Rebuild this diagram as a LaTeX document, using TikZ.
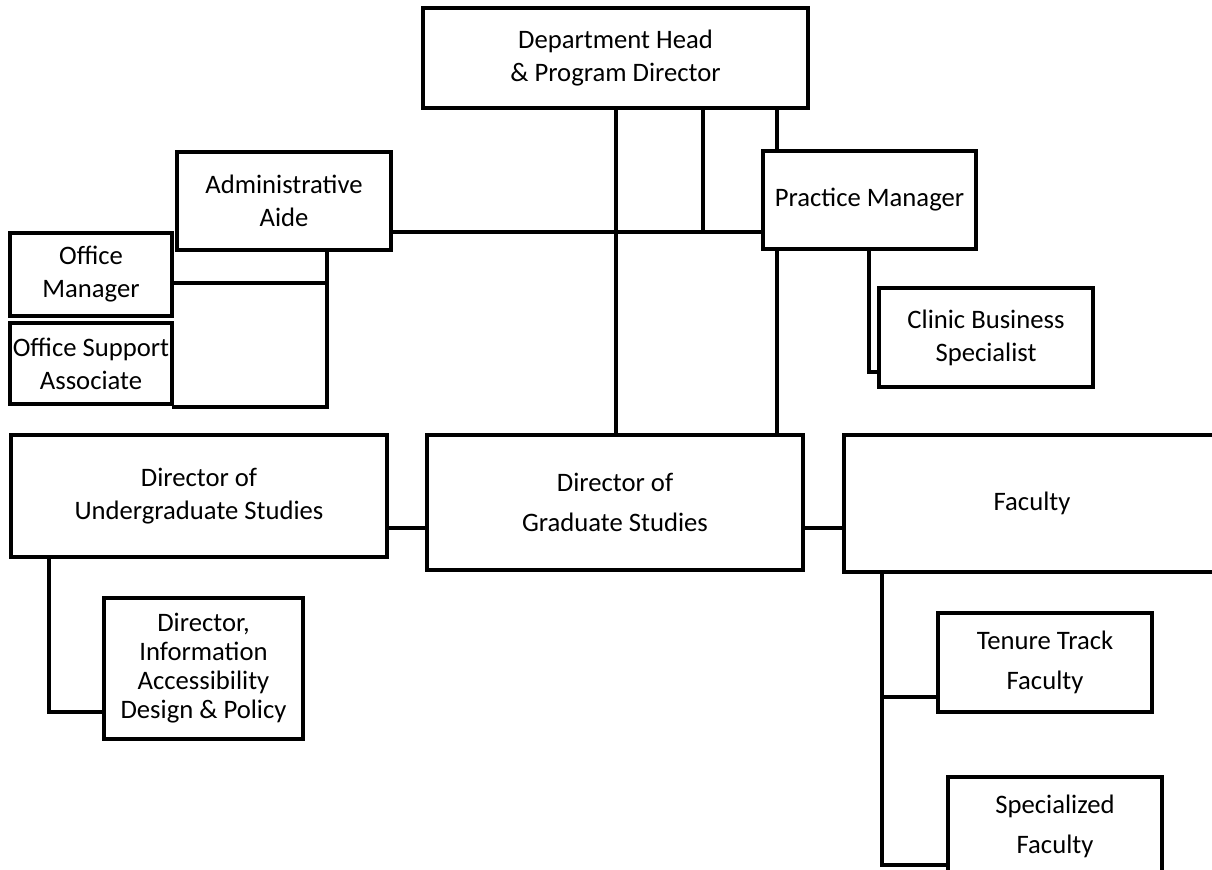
\documentclass[tikz,border=0pt]{standalone}
\usepackage{fontspec}
\setmainfont{Carlito}
\newcommand\fsa{\fontsize{16}{19.8}\selectfont}
\newcommand\fsb{\fontsize{16}{24}\selectfont}
\newcommand\fsc{\fontsize{16}{17.4}\selectfont}
\tikzset{
  bx/.style={draw, line width=1.9pt, inner sep=0pt, outer sep=0pt, align=center, font=\fsa},
  conn/.style={line width=1.9pt},
}
\begin{document}
\begin{tikzpicture}[x=0.6pt, y=-0.6pt]
\useasboundingbox (0,0) rectangle (1212,869);
\clip (0,0) rectangle (1212,869);
\fill[white] (0,0) rectangle (1212,869);
% boxes
\node[bx, minimum width=385*0.6pt, minimum height=100*0.6pt] (head) at (615.5,58) {Department Head\\\& Program Director};
\node[bx, minimum width=214*0.6pt, minimum height=98*0.6pt] (aide) at (284,201) {Administrative\\Aide};
\node[bx, minimum width=213*0.6pt, minimum height=98*0.6pt] (pm) at (869.5,200) {Practice Manager};
\node[bx, minimum width=162*0.6pt, minimum height=83*0.6pt] (om) at (91,274.5) {Office\\Manager};
\node[bx, minimum width=162*0.6pt, minimum height=81*0.6pt] (osa) at (91,363.5) {Office Support\\Associate};
\node[bx, minimum width=214*0.6pt, minimum height=99*0.6pt] (cbs) at (986,337.5) {Clinic Business\\Specialist};
\node[bx, minimum width=376*0.6pt, minimum height=122*0.6pt] (ug) at (199,496) {Director of\\Undergraduate Studies};
\node[bx, font=\fsb, minimum width=376*0.6pt, minimum height=135*0.6pt] (grad) at (615,502.5) {Director of\\Graduate Studies};
\node[bx, minimum width=376*0.6pt, minimum height=137*0.6pt] (fac) at (1032,503.5) {Faculty};
\node[bx, font=\fsc, minimum width=199*0.6pt, minimum height=141*0.6pt] (diadp) at (203.5,668.5) {Director,\\Information\\Accessibility\\Design \& Policy};
\node[bx, font=\fsb, minimum width=214*0.6pt, minimum height=99*0.6pt] (ttf) at (1045,662.5) {Tenure Track\\Faculty};
\node[bx, font=\fsb, minimum width=214*0.6pt, minimum height=99*0.6pt] (sf) at (1055,826.5) {Specialized\\Faculty};
% junction coordinates
\coordinate (xA) at (616,0);
\coordinate (jB) at (703,232);
\coordinate (xC) at (777,0);
\coordinate (jD) at (869,372);
\coordinate (jE) at (327,407);
\coordinate (jF) at (327,283);
\coordinate (jG) at (0,528);
\coordinate (jH) at (49,712);
\coordinate (jI) at (882,697);
\coordinate (jJ) at (882,865);
% connectors
\draw[conn] (head.south -| xA) -- (grad.north -| xA);
\draw[conn] (head.south -| jB) -- (jB);
\draw[conn] (aide.east |- jB) -- (pm.west |- jB);
\draw[conn] (head.south -| xC) -- (pm.north -| xC);
\draw[conn] (pm.south -| xC) -- (grad.north -| xC);
\draw[conn] (pm.south -| jD) |- (cbs.west |- jD);
\draw[conn] (aide.south -| jE) -- (jE) -- (osa.east |- jE);
\draw[conn] (om.east |- jF) -- (jF);
\draw[conn] (ug.east |- jG) -- (grad.west |- jG);
\draw[conn] (grad.east |- jG) -- (fac.west |- jG);
\draw[conn] (ug.south -| jH) |- (diadp.west |- jH);
\draw[conn] (fac.south -| jI) |- (ttf.west |- jI);
\draw[conn] (fac.south -| jJ) |- (sf.west |- jJ);
\end{tikzpicture}
\end{document}
